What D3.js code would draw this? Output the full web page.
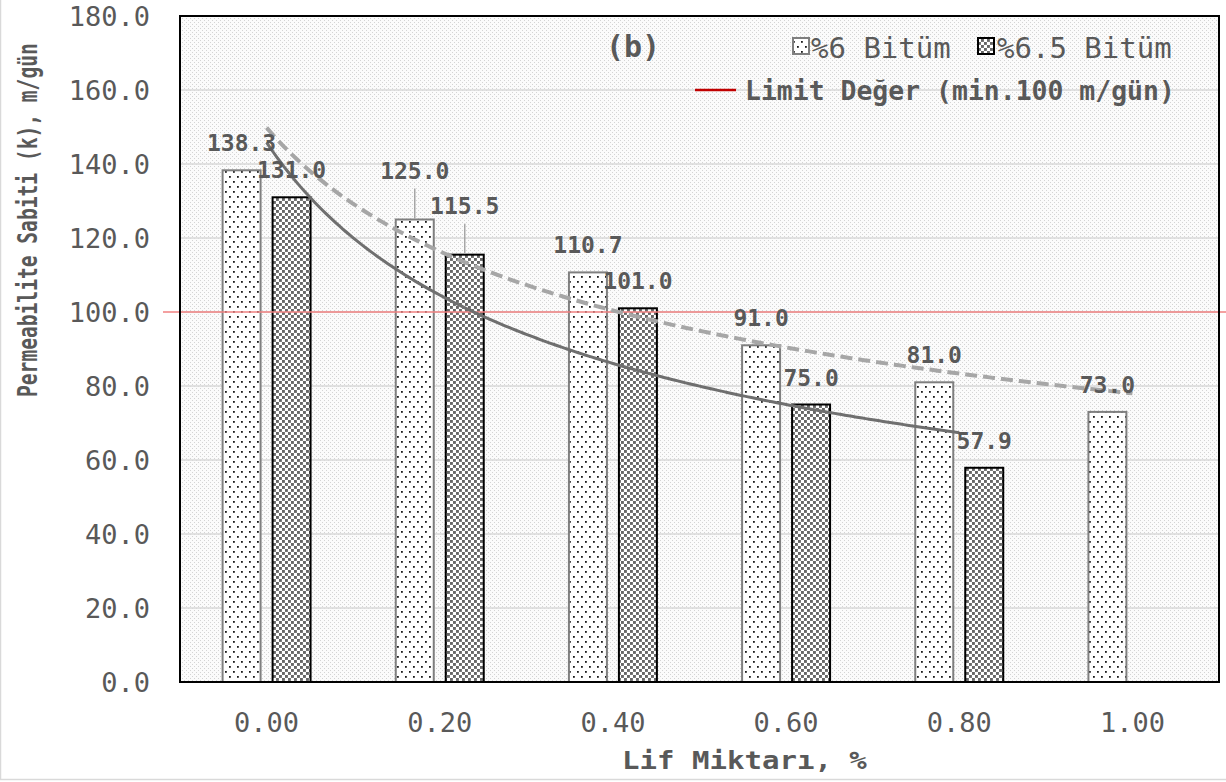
<!DOCTYPE html>
<html>
<head>
<meta charset="utf-8">
<script src="https://cdn.jsdelivr.net/npm/d3@7"></script>
<style>
  html, body { margin: 0; padding: 0; background: #fff; }
  svg { display: block; }
  text { font-family: "DejaVu Sans Mono", "Liberation Mono", monospace; fill: #595959; }
</style>
</head>
<body>
<svg id="chart" width="1226" height="782"></svg>
<script>
// Fibre content categories (x axis)
const categories = ["0.00", "0.20", "0.40", "0.60", "0.80", "1.00"];
// Permeability constant, m/gün
const bitumen6 = [138.3, 125.0, 110.7, 91.0, 81.0, 73.0];
const bitumen65 = [131.0, 115.5, 101.0, 75.0, 57.9, null];
const seriesNames = ["%6 Bitüm", "%6.5 Bitüm"];
const yTicks = [0, 20, 40, 60, 80, 100, 120, 140, 160, 180];
const limitValue = 100;
const limitLabel = "Limit Değer (min.100 m/gün)";
// [category index, series index] of labels raised above their bars with a leader line
const liftedLabels = [[1, 0], [1, 1]];

const svg = d3.select("#chart");
const W = 1226, H = 782;
const plot = { left: 180, top: 16, right: 1219, bottom: 682 };

// patterns
const defs = svg.append("defs");
const bg = defs.append("pattern").attr("id", "bgDots").attr("patternUnits", "userSpaceOnUse")
  .attr("width", 4).attr("height", 4);
bg.append("rect").attr("width", 4).attr("height", 4).attr("fill", "#fbfbfb");
bg.append("rect").attr("x", 0).attr("y", 0).attr("width", 1).attr("height", 1).attr("fill", "#d4d4d4");
bg.append("rect").attr("x", 2).attr("y", 2).attr("width", 1).attr("height", 1).attr("fill", "#d4d4d4");

const p1 = defs.append("pattern").attr("id", "dotsSparse").attr("patternUnits", "userSpaceOnUse")
  .attr("width", 8).attr("height", 10);
p1.append("rect").attr("width", 8).attr("height", 10).attr("fill", "#fff");
p1.append("rect").attr("x", 1).attr("y", 1).attr("width", 1.8).attr("height", 1.8).attr("fill", "#1a1a1a");
p1.append("rect").attr("x", 5).attr("y", 6).attr("width", 1.8).attr("height", 1.8).attr("fill", "#1a1a1a");

const p2 = defs.append("pattern").attr("id", "checks").attr("patternUnits", "userSpaceOnUse")
  .attr("width", 6).attr("height", 6);
p2.append("rect").attr("width", 6).attr("height", 6).attr("fill", "#fff");
p2.append("rect").attr("x", 0).attr("y", 0).attr("width", 2.9).attr("height", 2.9).attr("fill", "#666");
p2.append("rect").attr("x", 3).attr("y", 3).attr("width", 2.9).attr("height", 2.9).attr("fill", "#666");

const fills = ["url(#dotsSparse)", "url(#checks)"];
const strokes = ["#7f7f7f", "#000"];

// outer frame lines
svg.append("line").attr("x1", 0.5).attr("x2", 0.5).attr("y1", 0).attr("y2", 780).attr("stroke", "#d9d9d9").attr("stroke-width", 1.5);
svg.append("line").attr("x1", 0).attr("x2", W).attr("y1", 779.5).attr("y2", 779.5).attr("stroke", "#d9d9d9").attr("stroke-width", 1.5);

// scales
const x0 = d3.scaleBand().domain(categories).range([plot.left, plot.right]).paddingInner(0).paddingOuter(0);
const x1 = d3.scaleBand().domain([0, 1]).range([0, x0.bandwidth()]).paddingInner(0.24).paddingOuter(0.852);
const y = d3.scaleLinear().domain([0, 180]).range([plot.bottom, plot.top]);
// continuous position along categories (1-based index) for trendlines
const xt = d3.scaleLinear().domain([0.5, categories.length + 0.5]).range([plot.left, plot.right]);

// plot background
svg.append("rect").attr("x", plot.left).attr("y", plot.top)
  .attr("width", plot.right - plot.left).attr("height", plot.bottom - plot.top)
  .attr("fill", "url(#bgDots)");

// gridlines
svg.append("g").selectAll("line").data(yTicks.filter(t => t > 0 && t < 180)).join("line")
  .attr("x1", plot.left).attr("x2", plot.right)
  .attr("y1", d => y(d)).attr("y2", d => y(d))
  .attr("stroke", "#d9d9d9").attr("stroke-width", 1.5);

// y axis tick labels
const yAxis = d3.axisLeft(y).tickValues(yTicks).tickFormat(d3.format(".1f")).tickSize(0).tickPadding(30);
const gy = svg.append("g").attr("transform", `translate(${plot.left},0)`).call(yAxis);
gy.select(".domain").remove();
gy.selectAll("text").attr("font-size", 27).attr("fill", "#595959")
  .attr("font-family", "DejaVu Sans Mono").attr("dy", "0.36em");

// x axis tick labels
const xAxis = d3.axisBottom(x0).tickSize(0).tickPadding(30);
const gx = svg.append("g").attr("transform", `translate(0,${plot.bottom})`).call(xAxis);
gx.select(".domain").remove();
gx.selectAll("text").attr("font-size", 27).attr("fill", "#595959")
  .attr("font-family", "DejaVu Sans Mono").attr("y", 50).attr("dy", 0);

// bars
const series = [bitumen6, bitumen65];
const barData = [];
categories.forEach((c, i) => series.forEach((s, k) => {
  if (s[i] != null) barData.push({ c, i, k, v: s[i] });
}));
const bw = x1.bandwidth();
svg.append("g").selectAll("rect").data(barData).join("rect")
  .attr("x", d => x0(d.c) + x1(d.k))
  .attr("y", d => y(d.v))
  .attr("width", bw)
  .attr("height", d => y(0) - y(d.v))
  .attr("fill", d => fills[d.k])
  .attr("stroke", d => strokes[d.k])
  .attr("stroke-width", 2);

// limit line
svg.append("line").attr("x1", 163).attr("x2", W).attr("y1", y(limitValue)).attr("y2", y(limitValue))
  .attr("stroke", "#f08080").attr("stroke-width", 1.5);

// power trendlines y = a * x^b fitted on category index
function powerFit(vals) {
  const pts = vals.map((v, i) => [i + 1, v]).filter(p => p[1] != null);
  const lx = pts.map(p => Math.log(p[0])), ly = pts.map(p => Math.log(p[1]));
  const mx = d3.mean(lx), my = d3.mean(ly);
  const b = d3.sum(lx.map((v, i) => (v - mx) * (ly[i] - my))) / d3.sum(lx.map(v => (v - mx) ** 2));
  const a = Math.exp(my - b * mx);
  return { a, b, n: pts.length };
}
const line = d3.line().x(d => xt(d[0])).y(d => y(d[1]));
function trend(vals) {
  const f = powerFit(vals);
  const pts = d3.range(0, 201).map(j => {
    const t = 1 + (f.n - 1) * j / 200;
    return [t, f.a * Math.pow(t, f.b)];
  });
  return line(pts);
}
svg.append("path").attr("d", trend(bitumen6)).attr("fill", "none")
  .attr("stroke", "#a6a6a6").attr("stroke-width", 4).attr("stroke-dasharray", "12,6");
svg.append("path").attr("d", trend(bitumen65)).attr("fill", "none")
  .attr("stroke", "#6f6f6f").attr("stroke-width", 3);

// plot frame
svg.append("rect").attr("x", plot.left).attr("y", plot.top)
  .attr("width", plot.right - plot.left).attr("height", plot.bottom - plot.top)
  .attr("fill", "none").attr("stroke", "#000").attr("stroke-width", 2);

// data labels
const isLifted = d => liftedLabels.some(p => p[0] === d.i && p[1] === d.k);
const lab = svg.append("g");
barData.forEach(d => {
  const cx = x0(d.c) + x1(d.k) + bw / 2;
  const top = y(d.v);
  const lifted = isLifted(d);
  const base = top - 19 - (lifted ? 22 : 0);
  if (lifted) {
    lab.append("line").attr("x1", cx).attr("x2", cx).attr("y1", base + 10).attr("y2", top - 1)
      .attr("stroke", "#a6a6a6").attr("stroke-width", 1.5);
  }
  lab.append("text").attr("x", cx).attr("y", base).attr("text-anchor", "middle")
    .attr("font-size", 23).attr("font-weight", "bold").attr("fill", "#595959")
    .text(d3.format(".1f")(d.v));
});

// text squeezed or stretched along its run to a given length
function fittedText(tx, ty, angle, size, len, str) {
  const g = svg.append("g").attr("transform", `translate(${tx},${ty}) rotate(${angle})`);
  const t = g.append("text").attr("font-size", size).attr("font-weight", "bold").text(str);
  const natural = t.node().getComputedTextLength();
  t.attr("transform", `scale(${len / natural},1)`);
  return t;
}

// panel tag
svg.append("text").attr("x", 633).attr("y", 57).attr("text-anchor", "middle")
  .attr("font-size", 30).attr("font-weight", "bold").text("(b)");

// legend
const legendItems = [
  { x: 793, tx: 811, name: seriesNames[0], k: 0 },
  { x: 978, tx: 997, name: seriesNames[1], k: 1 }
];
legendItems.forEach(it => {
  svg.append("rect").attr("x", it.x).attr("y", 38).attr("width", 16).attr("height", 16)
    .attr("fill", fills[it.k]).attr("stroke", strokes[it.k]).attr("stroke-width", 2);
  svg.append("text").attr("x", it.tx).attr("y", 58).attr("font-size", 29).text(it.name);
});
svg.append("line").attr("x1", 695).attr("x2", 736).attr("y1", 90).attr("y2", 90)
  .attr("stroke", "#c00000").attr("stroke-width", 2.5);
fittedText(745, 100, 0, 26.5, 430, limitLabel);

// axis titles
fittedText(622, 769, 0, 25, 245, "Lif Miktarı, %");
fittedText(37, 397, -90, 27, 354, "Permeabilite Sabiti (k), m/gün");
</script>
</body>
</html>
